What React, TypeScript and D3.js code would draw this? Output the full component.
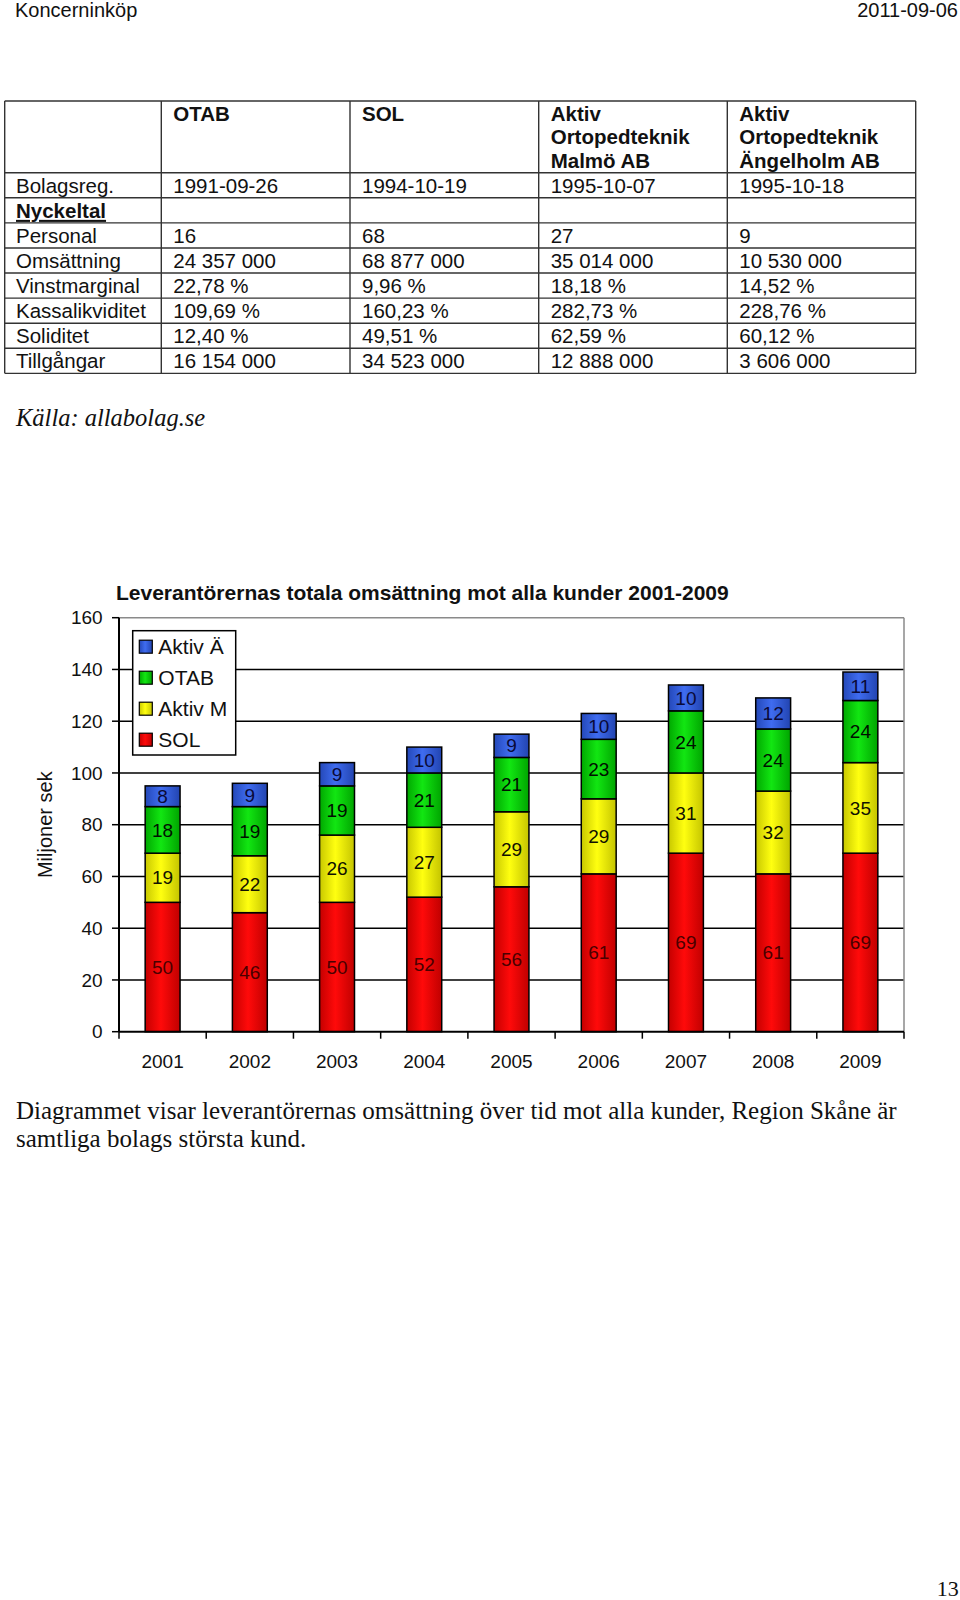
import React from "react";
import * as d3 from "d3";

const years = ["2001", "2002", "2003", "2004", "2005", "2006", "2007", "2008", "2009"];
const solValues = [50, 46, 50, 52, 56, 61, 69, 61, 69];
const aktivMValues = [19, 22, 26, 27, 29, 29, 31, 32, 35];
const otabValues = [18, 19, 19, 21, 21, 23, 24, 24, 24];
const aktivAeValues = [8, 9, 9, 10, 9, 10, 10, 12, 11];
const seriesKeys = ["SOL", "Aktiv M", "OTAB", "Aktiv Ä"];
const legendOrder = ["Aktiv Ä", "OTAB", "Aktiv M", "SOL"];
const yTicks = [0, 20, 40, 60, 80, 100, 120, 140, 160];

const tableColumns = [
  ["OTAB"],
  ["SOL"],
  ["Aktiv", "Ortopedteknik", "Malmö AB"],
  ["Aktiv", "Ortopedteknik", "Ängelholm AB"],
];
const tableRowLabels = ["Bolagsreg.", "Nyckeltal", "Personal", "Omsättning", "Vinstmarginal", "Kassalikviditet", "Soliditet", "Tillgångar"];
const tableCells = [
  ["1991-09-26", "1994-10-19", "1995-10-07", "1995-10-18"],
  ["", "", "", ""],
  ["16", "68", "27", "9"],
  ["24 357 000", "68 877 000", "35 014 000", "10 530 000"],
  ["22,78 %", "9,96 %", "18,18 %", "14,52 %"],
  ["109,69 %", "160,23 %", "282,73 %", "228,76 %"],
  ["12,40 %", "49,51 %", "62,59 %", "60,12 %"],
  ["16 154 000", "34 523 000", "12 888 000", "3 606 000"],
];

const SANS = "'Liberation Sans', Arial, Helvetica, sans-serif";
const SERIF = "'Liberation Serif', 'Times New Roman', serif";

const colors: Record<string, [string, string, string]> = {
  SOL: ["#c40000", "#ff0a0a", "#c00000"],
  "Aktiv M": ["#c8c800", "#ffff10", "#c4c400"],
  OTAB: ["#00a800", "#12e612", "#00a400"],
  "Aktiv Ä": ["#2448b8", "#3f6cf0", "#2244b0"],
};
const labelColors: Record<string, string> = {
  SOL: "#4a0000",
  "Aktiv M": "#111100",
  OTAB: "#001100",
  "Aktiv Ä": "#0a0a38",
};

export default function App() {
  const left = 119;
  const right = 904;
  const top = 617.7;
  const bottom = 1031.7;

  const x = d3.scaleBand<string>().domain(years).range([left, right]).paddingInner(0.6).paddingOuter(0.3);
  const y = d3.scaleLinear().domain([0, 160]).range([bottom, top]);

  const data = years.map((yr, i) => ({
    year: yr,
    SOL: solValues[i],
    "Aktiv M": aktivMValues[i],
    OTAB: otabValues[i],
    "Aktiv Ä": aktivAeValues[i],
  }));
  const stacked = d3.stack<any>().keys(seriesKeys)(data);

  const step = x.step();
  const catBounds = years.map((_, i) => left + i * step).concat([right]);

  // table geometry
  const colX = [4.7, 161.3, 350, 538.7, 727.3, 915.7];
  const tableTop = 101;
  const headerBottom = 172.7;
  const rowH = 25.08;
  const rowLines = [tableTop, headerBottom].concat(tableRowLabels.map((_, i) => headerBottom + (i + 1) * rowH));

  return (
    <svg width={960} height={1600} style={{ position: "absolute", left: 0, top: 0, background: "#fff" }}>
      <defs>
        {seriesKeys.map((k, i) => (
          <linearGradient key={k} id={`g${i}`} x1="0" x2="1" y1="0" y2="0">
            <stop offset="0%" stopColor={colors[k][0]} />
            <stop offset="45%" stopColor={colors[k][1]} />
            <stop offset="100%" stopColor={colors[k][2]} />
          </linearGradient>
        ))}
      </defs>
      <rect x={0} y={0} width={960} height={1600} fill="#fff" />

      {/* page header */}
      <text x={15} y={17} fontFamily={SANS} fontSize={20} fill="#111">Koncerninköp</text>
      <text x={958} y={17} fontFamily={SANS} fontSize={20} fill="#111" textAnchor="end">2011-09-06</text>

      {/* table */}
      <g>
        {rowLines.map((ly, i) => (
          <line key={"rl" + i} x1={colX[0]} x2={colX[5]} y1={ly} y2={ly} stroke="#333" strokeWidth={1.4} />
        ))}
        {colX.map((cx, i) => (
          <line key={"cl" + i} x1={cx} x2={cx} y1={tableTop} y2={rowLines[rowLines.length - 1]} stroke="#333" strokeWidth={1.4} />
        ))}
        {tableColumns.map((lines, ci) =>
          lines.map((ln, li) => (
            <text key={`h${ci}-${li}`} x={colX[ci + 1] + 12} y={120.7 + li * 23.5} fontFamily={SANS} fontSize={20.5} fontWeight="bold" fill="#111">
              {ln}
            </text>
          ))
        )}
        {tableRowLabels.map((lab, ri) => {
          const base = headerBottom + (ri + 1) * rowH - 5;
          return (
            <g key={"r" + ri}>
              <text
                x={colX[0] + 11.3}
                y={base}
                fontFamily={SANS}
                fontSize={20.5}
                fontWeight={lab === "Nyckeltal" ? "bold" : "normal"}
                textDecoration={lab === "Nyckeltal" ? "underline" : "none"}
                fill="#111"
              >
                {lab}
              </text>
              {tableCells[ri].map((c, ci) => (
                <text key={ci} x={colX[ci + 1] + 12} y={base} fontFamily={SANS} fontSize={20.5} fill="#111">
                  {c}
                </text>
              ))}
            </g>
          );
        })}
      </g>

      <text x={16} y={426} fontFamily={SERIF} fontStyle="italic" fontSize={24.5} fill="#111">Källa: allabolag.se</text>

      {/* chart title */}
      <text x={116} y={600} fontFamily={SANS} fontSize={21} fontWeight="bold" fill="#111">
        Leverantörernas totala omsättning mot alla kunder 2001-2009
      </text>

      {/* gridlines */}
      {yTicks.filter((t) => t > 0 && t < 160).map((t) => (
        <line key={"gl" + t} x1={left} x2={right} y1={y(t)} y2={y(t)} stroke="#000" strokeWidth={1.5} />
      ))}
      <line x1={left} x2={right} y1={y(160)} y2={y(160)} stroke="#8a8a8a" strokeWidth={1.5} />
      <line x1={right} x2={right} y1={y(160)} y2={y(0)} stroke="#8a8a8a" strokeWidth={1.5} />

      {/* bars */}
      {stacked.map((s, si) =>
        s.map((d, di) => {
          const x0 = x(years[di]) as number;
          const y0 = y(d[1]);
          const h = y(d[0]) - y(d[1]);
          return (
            <rect
              key={`b${si}-${di}`}
              x={x0}
              y={y0}
              width={x.bandwidth()}
              height={h}
              fill={`url(#g${si})`}
              stroke="#000"
              strokeWidth={1.5}
            />
          );
        })
      )}
      {stacked.map((s, si) =>
        s.map((d, di) => {
          const cx = (x(years[di]) as number) + x.bandwidth() / 2;
          const cy = y((d[0] + d[1]) / 2);
          return (
            <text
              key={`t${si}-${di}`}
              x={cx}
              y={cy}
              dy="0.35em"
              textAnchor="middle"
              fontFamily={SANS}
              fontSize={19}
              fill={labelColors[s.key]}
            >
              {d[1] - d[0]}
            </text>
          );
        })
      )}

      {/* axes */}
      <line x1={left} x2={left} y1={y(160)} y2={y(0)} stroke="#000" strokeWidth={2} />
      <line x1={left} x2={right} y1={y(0)} y2={y(0)} stroke="#000" strokeWidth={2} />
      {yTicks.map((t) => (
        <g key={"yt" + t}>
          <line x1={left - 7} x2={left} y1={y(t)} y2={y(t)} stroke="#000" strokeWidth={1.5} />
          <text x={102.7} y={y(t)} dy="0.35em" textAnchor="end" fontFamily={SANS} fontSize={19} fill="#111">
            {t}
          </text>
        </g>
      ))}
      {catBounds.map((bx, i) => (
        <line key={"xt" + i} x1={bx} x2={bx} y1={y(0)} y2={y(0) + 7} stroke="#000" strokeWidth={1.5} />
      ))}
      {years.map((yr) => (
        <text key={"xl" + yr} x={(x(yr) as number) + x.bandwidth() / 2} y={1061.7} dy="0.35em" textAnchor="middle" fontFamily={SANS} fontSize={19} fill="#111">
          {yr}
        </text>
      ))}
      <text
        transform={`translate(45,${(top + bottom) / 2}) rotate(-90)`}
        textAnchor="middle"
        dy="0.35em"
        fontFamily={SANS}
        fontSize={20}
        fill="#111"
      >
        Miljoner sek
      </text>

      {/* legend */}
      <rect x={132.7} y={630.7} width={103} height={124.3} fill="#fff" stroke="#000" strokeWidth={1.5} />
      {legendOrder.map((k, i) => {
        const cy = 646.7 + i * 31;
        const si = seriesKeys.indexOf(k);
        return (
          <g key={"lg" + k}>
            <rect x={139.3} y={cy - 6.5} width={13} height={13} fill={`url(#g${si})`} stroke="#000" strokeWidth={1.2} />
            <text x={158.3} y={cy} dy="0.36em" fontFamily={SANS} fontSize={21} fill="#111">
              {k}
            </text>
          </g>
        );
      })}

      {/* caption */}
      <text x={16} y={1118.5} fontFamily={SERIF} fontSize={25} fill="#111">
        Diagrammet visar leverantörernas omsättning över tid mot alla kunder, Region Skåne är
      </text>
      <text x={16} y={1147} fontFamily={SERIF} fontSize={25} fill="#111">
        samtliga bolags största kund.
      </text>

      <text x={958.7} y={1596} textAnchor="end" fontFamily={SERIF} fontSize={22} fill="#111">13</text>
    </svg>
  );
}
